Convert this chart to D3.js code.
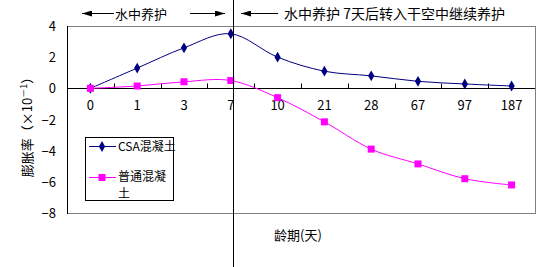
<!DOCTYPE html>
<html>
<head>
<meta charset="utf-8">
<script src="https://cdn.jsdelivr.net/npm/d3@7"></script>
<style>
body{margin:0;background:#fff;}
svg text{font-family:"Noto Sans CJK SC","DejaVu Sans",sans-serif;font-size:12px;fill:#000;}
</style>
</head>
<body>
<svg id="chart" width="540" height="267"></svg>
<script>
// age categories (days) and expansion values (x10^-1)
var ages = ["0","1","3","7","10","21","28","67","97","187"];
var csa = [0, 1.3, 2.6, 3.5, 2.0, 1.1, 0.8, 0.45, 0.28, 0.15];
var plain = [0, 0.15, 0.42, 0.5, -0.6, -2.15, -3.9, -4.85, -5.8, -6.2];
var yTicks = [4, 2, 0, -2, -4, -6, -8];
var seriesNames = ["CSA混凝土", "普通混凝土"];

var plotL = 67, plotR = 535, plotT = 26, plotB = 213; //window.top is taken, so no "top"
var svg = d3.select("#chart");

var x = d3.scaleBand().domain(ages).range([plotL, plotR]);
var y = d3.scaleLinear().domain([-8, 4]).range([plotB, plotT]);

//frame: gray on top/right/bottom, black left axis
svg.append("rect")
    .attr("x", plotL + 0.5).attr("y", plotT + 0.5)
    .attr("width", plotR-plotL).attr("height", plotB-plotT)
    .attr("fill", "none").attr("stroke", "#808080");
svg.append("line")
    .attr("x1", plotL+0.5).attr("x2", plotL+0.5)
    .attr("y1", plotT).attr("y2", plotB+1)
    .attr("stroke", "#000");

//zero axis with upward ticks between categories
var y0 = Math.round(y(0)) + 0.5;
svg.append("line")
    .attr("x1", plotL).attr("x2", plotR)
    .attr("y1", y0).attr("y2", y0)
    .attr("stroke", "#000");
ages.forEach(function(a, i){
    if(i == 0) return;
    var tx = Math.round(x(a)) + 0.5;
    svg.append("line")
        .attr("x1", tx).attr("x2", tx)
        .attr("y1", y0-5).attr("y2", y0)
        .attr("stroke", "#000");
});
ages.forEach(function(a){
    svg.append("text")
        .attr("x", x(a) + x.bandwidth()/2)
        .attr("y", y0 + 21)
        .attr("text-anchor", "middle")
        .style("font-size", "13px")
        .text(a);
});

//y tick labels
yTicks.forEach(function(t){
    svg.append("text")
        .attr("x", 56)
        .attr("y", y(t) + 5)
        .attr("text-anchor", "end")
        .style("font-size", "13px")
        .text(t < 0 ? "\u2212" + (-t) : t);
});

//axis titles
svg.append("text")
    .attr("transform", "translate(32,124) rotate(-90)")
    .attr("text-anchor", "middle")
    .style("font-size", "13px")
    .html("膨胀率（×10<tspan dy='-5' font-size='9'>－1</tspan><tspan dy='5'>）</tspan>");
svg.append("text")
    .attr("x", 298).attr("y", 240)
    .attr("text-anchor", "middle")
    .style("font-size", "13px")
    .text("龄期(天)");

//lines
var line = d3.line()
    .x(function(d, i){ return x(ages[i]) + x.bandwidth()/2; })
    .y(function(d){ return y(d); })
    .curve(d3.curveCatmullRom.alpha(0));

svg.append("path").datum(csa)
    .attr("d", line).attr("fill", "none").attr("stroke", "#000080").attr("stroke-width", 1);
svg.append("path").datum(plain)
    .attr("d", line).attr("fill", "none").attr("stroke", "#ff00ff").attr("stroke-width", 1);

var diamond = d3.symbol().type(d3.symbolDiamond).size(34);
svg.selectAll(".csa").data(csa).enter().append("path")
    .attr("class", "csa")
    .attr("d", diamond)
    .attr("transform", function(d, i){ return "translate(" + (x(ages[i]) + x.bandwidth()/2) + "," + y(d) + ")"; })
    .attr("fill", "#000080");
svg.selectAll(".plain").data(plain).enter().append("rect")
    .attr("class", "plain")
    .attr("x", function(d, i){ return x(ages[i]) + x.bandwidth()/2 - 3.5; })
    .attr("y", function(d){ return y(d) - 3.5; })
    .attr("width", 7).attr("height", 7)
    .attr("fill", "#ff00ff");

//vertical divider at day 7
var vx = Math.round(x("7") + x.bandwidth()/2) + 2.5;
svg.append("line")
    .attr("x1", vx).attr("x2", vx)
    .attr("y1", 0).attr("y2", 267)
    .attr("stroke", "#000");

//top annotations with arrows
svg.append("defs").append("marker")
    .attr("id", "ah")
    .attr("viewBox", "0 0 10 6")
    .attr("refX", 10).attr("refY", 3)
    .attr("markerWidth", 10).attr("markerHeight", 6)
    .attr("markerUnits", "userSpaceOnUse")
    .attr("orient", "auto")
    .append("path").attr("d", "M0,0 L10,3 L0,6 Z").attr("fill", "#000");

function arrow(x1, x2){
    svg.append("line")
        .attr("x1", x1).attr("x2", x2)
        .attr("y1", 13.5).attr("y2", 13.5)
        .attr("stroke", "#000")
        .attr("marker-end", "url(#ah)");
}
arrow(114, 82);
arrow(190, 225);
arrow(278, 241);
svg.append("text").attr("x", 141).attr("y", 19).attr("text-anchor", "middle").style("font-size", "13px").text("水中养护");
svg.append("text").attr("x", 284).attr("y", 19).style("font-size", "14px").text("水中养护 7天后转入干空中继续养护");

//legend
var lg = svg.append("g");
lg.append("rect")
    .attr("x", 85.5).attr("y", 137.5)
    .attr("width", 88).attr("height", 63)
    .attr("fill", "#fff").attr("stroke", "#000");
lg.append("line").attr("x1", 89).attr("x2", 116).attr("y1", 146.5).attr("y2", 146.5).attr("stroke", "#000080");
lg.append("path").attr("d", diamond).attr("transform", "translate(102,146.5)").attr("fill", "#000080");
lg.append("text").attr("x", 118).attr("y", 151).text(seriesNames[0]);
lg.append("line").attr("x1", 89).attr("x2", 116).attr("y1", 177.5).attr("y2", 177.5).attr("stroke", "#ff00ff");
lg.append("rect").attr("x", 98.5).attr("y", 174).attr("width", 7).attr("height", 7).attr("fill", "#ff00ff");
lg.append("text").attr("x", 118).attr("y", 181).text(seriesNames[1].slice(0, 4));
lg.append("text").attr("x", 118).attr("y", 198).text(seriesNames[1].slice(4));
</script>
</body>
</html>
